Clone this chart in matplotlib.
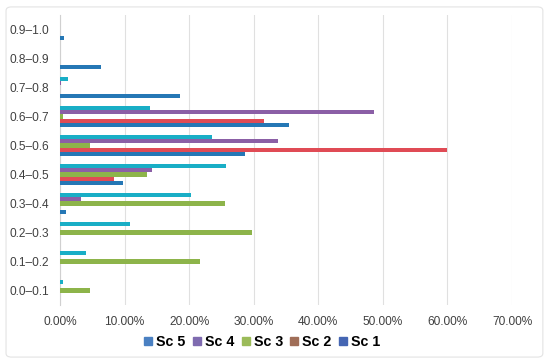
import numpy as np
import matplotlib.pyplot as plt
from matplotlib.patches import Patch, FancyBboxPatch

plt.rcParams['font.family'] = ['Liberation Sans', 'DejaVu Sans']

categories = ['0.0–0.1', '0.1–0.2', '0.2–0.3', '0.3–0.4', '0.4–0.5',
              '0.5–0.6', '0.6–0.7', '0.7–0.8', '0.8–0.9', '0.9–1.0']
# values in %, bottom category first
sc1 = [0.0, 0.0, 0.0, 1.0, 9.7, 28.6, 35.5, 18.6, 6.3, 0.6]
sc2 = [0.0, 0.0, 0.0, 0.0, 8.3, 60.0, 31.6, 0.0, 0.0, 0.0]
sc3 = [4.6, 21.7, 29.7, 25.6, 13.5, 4.6, 0.5, 0.0, 0.0, 0.0]
sc4 = [0.0, 0.0, 0.0, 3.2, 14.2, 33.7, 48.6, 0.2, 0.0, 0.0]
sc5 = [0.5, 4.0, 10.8, 20.3, 25.7, 23.6, 14.0, 1.3, 0.0, 0.0]
series = ['Sc 1', 'Sc 2', 'Sc 3', 'Sc 4', 'Sc 5']
xticks = [0, 10, 20, 30, 40, 50, 60, 70]

bar_colors = ['#2577b5', '#e04b55', '#8db44a', '#8b5fa6', '#19aec6']
legend_colors = {'Sc 5': '#4a80c2', 'Sc 4': '#7f6bb0', 'Sc 3': '#9bbb59',
                 'Sc 2': '#a06e58', 'Sc 1': '#4566b3'}

fig = plt.figure(figsize=(5.5, 3.64), dpi=100)
ax = fig.add_axes([0.109, 0.162, 0.822, 0.797])

y = np.arange(len(categories))
step = 0.143
for i, vals in enumerate([sc1, sc2, sc3, sc4, sc5]):
    ax.barh(y + (i - 2) * step, vals, height=step, color=bar_colors[i], zorder=3)

ax.set_xlim(0, 70)
ax.set_ylim(-0.5, len(categories) - 0.5)
ax.set_xticks(xticks)
ax.set_xticklabels(['%.2f%%' % t for t in xticks], fontsize=8.6, color='#404040')
ax.set_yticks(y)
ax.set_yticklabels(categories, fontsize=8.6, color='#404040')
ax.tick_params(axis='both', length=0)
ax.tick_params(axis='y', pad=8)
ax.tick_params(axis='x', pad=8)
ax.grid(axis='x', color='#e0e0e0', linewidth=0.8, zorder=0)
for s in ['top', 'right', 'bottom']:
    ax.spines[s].set_visible(False)
ax.spines['left'].set_color('#d0d0d0')

handles = [Patch(color=legend_colors[s], label=s) for s in series[::-1]]
fig.legend(handles=handles, loc='center', bbox_to_anchor=(0.477, 0.06), ncol=5,
           frameon=False, prop={'weight': 'bold', 'size': 10.3},
           handlelength=0.55, handleheight=0.55, handletextpad=0.3, columnspacing=0.5)

fig.patches.append(FancyBboxPatch((0.011, 0.019), 0.976, 0.962,
                                  boxstyle='round,pad=0,rounding_size=0.01',
                                  transform=fig.transFigure, fill=False,
                                  edgecolor='#e3e3e3', linewidth=0.8))

fig.savefig('out.png', dpi=100)
